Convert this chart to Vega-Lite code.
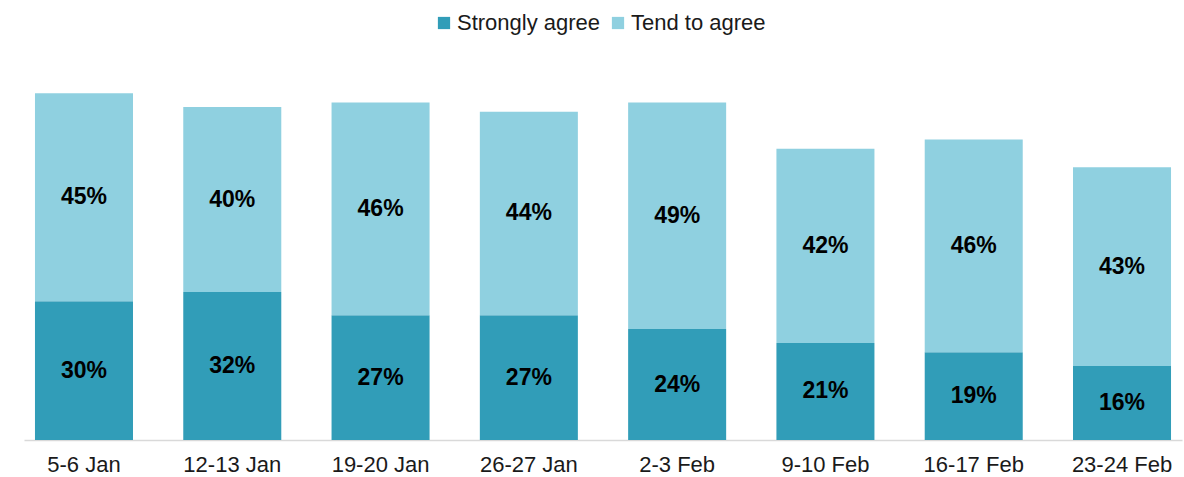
{
  "$schema": "https://vega.github.io/schema/vega-lite/v6.json",
  "width": 1158,
  "height": 370,
  "autosize": {"type": "none"},
  "padding": {"left": 24, "top": 70, "right": 2, "bottom": 37},
  "background": "#ffffff",
  "config": {
    "view": {"stroke": null},
    "font": "Liberation Sans"
  },
  "data": {
    "values": [
      {"period": "5-6 Jan", "series": "Strongly agree", "value": 30},
      {"period": "5-6 Jan", "series": "Tend to agree", "value": 45},
      {"period": "12-13 Jan", "series": "Strongly agree", "value": 32},
      {"period": "12-13 Jan", "series": "Tend to agree", "value": 40},
      {"period": "19-20 Jan", "series": "Strongly agree", "value": 27},
      {"period": "19-20 Jan", "series": "Tend to agree", "value": 46},
      {"period": "26-27 Jan", "series": "Strongly agree", "value": 27},
      {"period": "26-27 Jan", "series": "Tend to agree", "value": 44},
      {"period": "2-3 Feb", "series": "Strongly agree", "value": 24},
      {"period": "2-3 Feb", "series": "Tend to agree", "value": 49},
      {"period": "9-10 Feb", "series": "Strongly agree", "value": 21},
      {"period": "9-10 Feb", "series": "Tend to agree", "value": 42},
      {"period": "16-17 Feb", "series": "Strongly agree", "value": 19},
      {"period": "16-17 Feb", "series": "Tend to agree", "value": 46},
      {"period": "23-24 Feb", "series": "Strongly agree", "value": 16},
      {"period": "23-24 Feb", "series": "Tend to agree", "value": 43}
    ]
  },
  "encoding": {
    "x": {
      "field": "period",
      "type": "nominal",
      "sort": null,
      "scale": {"paddingInner": 0.339, "paddingOuter": 0.074},
      "axis": {
        "title": null,
        "labelAngle": 0,
        "ticks": false,
        "labelPadding": 14,
        "labelFontSize": 22,
        "labelColor": "#1a1a1a",
        "domainColor": "#d9d9d9",
        "domainWidth": 1.5,
        "labelFont": "Liberation Sans"
      }
    }
  },
  "layer": [
    {
      "mark": {"type": "bar"},
      "encoding": {
        "y": {
          "field": "value",
          "type": "quantitative",
          "stack": "zero",
          "scale": {"domain": [0, 80], "nice": false},
          "axis": null
        },
        "color": {
          "field": "series",
          "type": "nominal",
          "scale": {"domain": ["Strongly agree", "Tend to agree"], "range": ["#319db8", "#8fd0e0"]},
          "legend": {
            "title": null,
            "orient": "none",
            "direction": "horizontal",
            "legendX": 409,
            "legendY": -58,
            "padding": 0,
            "symbolType": "square",
            "symbolSize": 150,
            "symbolStrokeWidth": 0,
            "labelFontSize": 22,
            "labelColor": "#1a1a1a",
            "labelFont": "Liberation Sans",
            "labelOffset": 2,
            "columnPadding": 6,
            "labelLimit": 300
          }
        },
        "order": {"field": "series", "sort": "ascending"}
      }
    },
    {
      "transform": [
        {"stack": "value", "groupby": ["period"], "sort": [{"field": "series", "order": "ascending"}], "as": ["v0", "v1"]},
        {"calculate": "(datum.v0 + datum.v1) / 2", "as": "mid"},
        {"calculate": "datum.value + '%'", "as": "label"}
      ],
      "mark": {"type": "text", "fontSize": 23, "fontWeight": "bold", "color": "#000000", "baseline": "middle", "align": "center", "font": "Liberation Sans"},
      "encoding": {
        "y": {"field": "mid", "type": "quantitative", "scale": {"domain": [0, 80], "nice": false}},
        "text": {"field": "label"}
      }
    }
  ]
}
